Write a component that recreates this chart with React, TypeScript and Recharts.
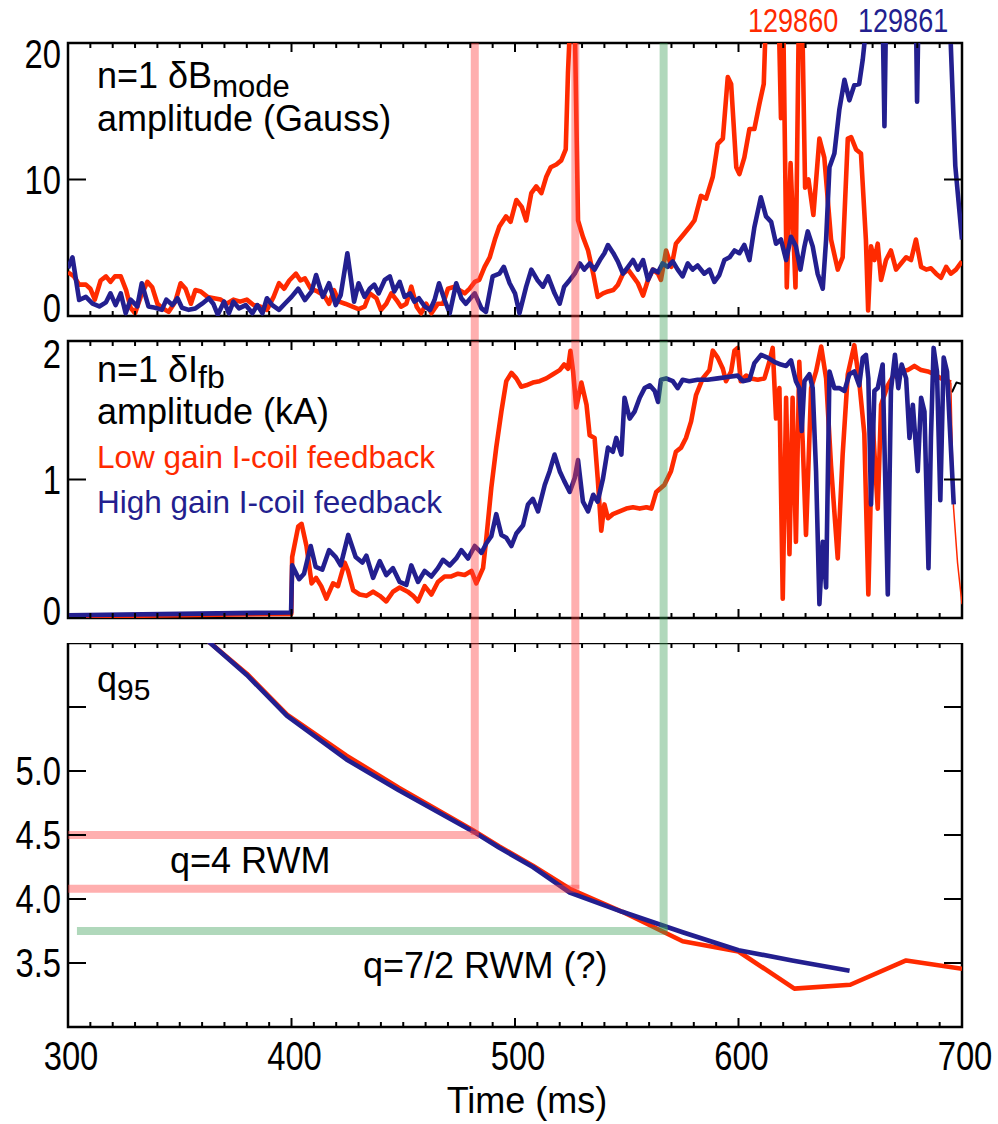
import React from 'react';
import { LineChart, Line, XAxis, YAxis, ReferenceLine, ReferenceArea } from 'recharts';

const RED = '#ff2a00';
const BLUE = '#231f8f';
const PINK = '#ff4040';
const GREEN = '#3a9d55';
const FONT = "'Liberation Sans', Arial, Helvetica, sans-serif";
const NARROW_SCALE = 0.82;

// ---- axis ticks ----
const timeTicks = [300, 310, 320, 330, 340, 350, 360, 370, 380, 390, 400, 410, 420, 430, 440, 450, 460, 470, 480, 490, 500,
  510, 520, 530, 540, 550, 560, 570, 580, 590, 600, 610, 620, 630, 640, 650, 660, 670, 680, 690, 700];
const modeTicks = [0, 10, 20];
const fbTicks = [0, 1, 2];
const qTicks = [3, 3.5, 4, 4.5, 5, 5.5, 6];
const qLabelled = [3.5, 4, 4.5, 5];

// ---- event markers ----
const eventRed1 = 482;
const eventRed2 = 527;
const eventGreen = 566.5;
const qRed1 = 4.5;
const qRed2 = 4.08;
const qGreen = 3.75;

// ---- n=1 dB_mode amplitude (Gauss) ----
const modeRed: [number, number][] = [
  [300, 3.2], [302.7, 2.9], [305, 2.3], [308, 2.3], [310, 2.0], [312, 1.2], [314.6, 2.6], [317, 2.9], [319, 2.5], [321, 2.9],
  [323.6, 2.9], [326, 1.9], [328, 0.6], [330, 0.2], [332.5, 1.4], [335.5, 2.5], [337.7, 2.1], [340, 0.9], [342, 0.6], [345, 0.3],
  [348, 1.05], [350.4, 2.4], [352.6, 2.0], [355, 0.9], [357, 1.9], [359.4, 1.8], [362.4, 1.4], [365.3, 1.3], [368.3, 1.2], [371, 0.9],
  [374, 1.2], [377, 1.05], [380, 1.2], [383, 0.8], [386, 0.7], [389, 0.45], [392, 1.4], [394.4, 2.4], [396.7, 2.0], [399, 2.6],
  [402, 3.1], [404, 2.6], [406, 2.75], [408.6, 2.0], [411.6, 1.8], [414.6, 1.5], [416.8, 0.9], [419, 1.9], [421.3, 1.05], [424, 0.9],
  [427, 0.7], [430, 0.5], [432.7, 0.68], [435, 1.66], [438, 1.3], [440, 0.44], [442.4, 0.9], [444.7, 1.66], [447, 1.17], [449, 0.68],
  [451.4, 0.9], [453.6, 2.15], [456, 0.68], [458, 0.2], [460.3, 0.9], [462.6, 0.2], [465.5, 0.9], [467.8, 0.9], [470, 2.0], [473, 2.15],
  [475, 1.9], [477.5, 1.66], [479.7, 2.0], [482, 2.5], [484, 2.64], [486.4, 3.6], [488.7, 4.3], [491, 5.6], [493, 6.55], [496, 7.3],
  [498, 6.9], [500.6, 8.5], [503, 8.0], [505, 7.0], [507.3, 9.0], [509.5, 9.5], [511.8, 9.0], [514, 10.2], [516, 10.9], [518.5, 11.1],
  [520.7, 11.4], [522.7, 12.2], [523.7, 17.8], [524.8, 22], [526.7, 22], [528.2, 7.0], [530.4, 5.8], [532.7, 4.8], [535, 3.1], [537, 1.4],
  [539.4, 1.66], [541.6, 1.8], [544, 1.9], [546, 2.27], [548.3, 3.1], [550.6, 3.4], [552.8, 2.9], [555, 2.4], [557.3, 1.5], [559.5, 2.64],
  [561.7, 3.4], [564, 3.1], [565.3, 2.64], [567.6, 4.8], [570, 3.6], [572, 5.3], [575, 5.9], [578, 6.5], [580.3, 7.0], [583.2, 8.8],
  [585.5, 8.6], [588.5, 10.2], [590.7, 12.6], [593, 13.0], [595.2, 17.5], [596.7, 17.0], [599, 10.9], [600.4, 10.4], [602.6, 11.6], [604.9, 13.7],
  [607.1, 13.7], [609.3, 15.5], [611.3, 17.0], [612.3, 22], [618, 22], [619, 14.5], [620, 22], [621.6, 2.1], [623.3, 11.2], [625.5, 2.1],
  [627, 22], [628.5, 22], [629.8, 9.4], [631.3, 10.0], [633.5, 7.4], [636.2, 13.0], [638.4, 11.6], [641.4, 5.6], [644.4, 3.4], [646.6, 4.3],
  [648.9, 13.0], [650.4, 13.1], [652.6, 12.2], [654.8, 11.9], [657, 5.6], [658, 0.4], [659.3, 5.1], [660.8, 4.1], [662.3, 5.3], [663.8, 2.64],
  [666, 4.1], [668.2, 4.8], [670.5, 3.4], [672.7, 3.85], [675, 4.3], [677.2, 4.1], [679.4, 5.6], [681.7, 3.6], [684, 3.4], [686.1, 3.5],
  [688.4, 3.1], [690.6, 2.8], [692.9, 3.6], [695, 3.1], [697.3, 3.4], [700, 4.0],
];
const modeBlue: [number, number][] = [
  [300, 3.5], [302, 4.3], [305, 1.17], [308, 1.4], [311, 0.9], [314, 0.7], [317, 1.0], [319, 1.66], [321.3, 0.8], [323.6, 1.66],
  [325.8, 0.2], [328, 1.2], [331, 0.7], [333, 2.4], [336, 0.7], [339, 0.6], [342, 0.45], [344, 1.2], [346.7, 0.8], [349, 1.3],
  [351, 0.6], [354, 0.45], [357, 0.55], [360, 0.9], [363, 1.3], [365, 0.9], [367, 0.1], [369.8, 1.05], [372, 0.2], [374, 1.05],
  [376.5, 0.56], [379.5, 0.8], [382.5, 0.2], [384.7, 0.8], [387, 0.2], [389, 1.3], [391.4, 0.8], [394.4, 0.45], [397, 0.9], [400, 1.4],
  [403, 2.0], [406, 1.17], [409, 1.8], [411, 3.0], [414, 1.4], [416.8, 2.4], [419.8, 0.8], [422, 1.53], [425, 4.6], [428, 1.05],
  [430, 2.4], [432.7, 1.4], [435, 2.0], [437, 2.3], [439, 1.66], [441.7, 2.64], [444, 2.9], [446, 1.8], [448.4, 2.5], [450.6, 1.4],
  [453, 1.66], [455, 1.05], [457, 1.3], [459.6, 0.7], [462, 0.44], [464, 1.17], [466, 2.4], [468.5, 1.17], [470.8, 0.2], [473.7, 2.4],
  [476, 1.3], [478, 0.9], [482, 1.66], [485, 0.56], [487, 0.3], [490, 2.9], [493, 3.1], [495, 3.6], [497.6, 2.4], [500, 1.66],
  [502, 0.2], [505, 2.15], [507.3, 3.4], [510, 2.64], [512.5, 2.15], [514.8, 2.9], [517.7, 1.66], [520, 0.9], [522, 2.15], [524.5, 2.64],
  [526.7, 3.1], [529, 3.85], [531, 3.4], [533.4, 3.85], [535.6, 3.4], [538, 4.1], [540, 4.6], [541.6, 5.2], [544, 4.6], [546, 4.0],
  [548.3, 3.1], [550.6, 3.6], [552.8, 4.1], [555, 3.4], [557.3, 4.1], [559.5, 2.64], [561.7, 3.4], [564, 3.2], [566, 3.85], [568.3, 3.6],
  [570.6, 4.0], [572.8, 3.4], [575, 2.9], [577.3, 3.85], [579.5, 3.4], [581.7, 3.7], [584.7, 3.1], [587, 3.4], [589.2, 2.5], [591.4, 3.0],
  [593.7, 4.1], [596, 4.3], [598.2, 4.8], [600.4, 4.6], [602.6, 5.2], [604.9, 4.1], [607.1, 6.5], [610, 8.7], [612.3, 7.3], [614.6, 6.9],
  [616.8, 5.3], [619, 5.6], [621.3, 4.1], [623.5, 5.8], [625.7, 5.1], [627.7, 3.4], [629.5, 5.1], [631, 6.2], [633.2, 5.1], [635.4, 3.1],
  [637.7, 2.0], [639.2, 5.6], [640.7, 10.9], [642.9, 11.9], [645.1, 15.1], [647.4, 17.3], [649.6, 15.8], [651.8, 16.9], [654, 17.0], [655.6, 18.8],
  [657, 21], [664.5, 22], [665.3, 13.9], [666, 22], [679.4, 22], [679.9, 15.7], [680.5, 22], [694.5, 22], [697, 11], [700, 5.6],
];

// ---- n=1 dI_fb amplitude (kA) ----
const fbRed: [number, number][] = [
  [300, 0.01], [350, 0.02], [399.9, 0.03], [400.3, 0.44], [403, 0.66], [404.5, 0.68], [406.7, 0.52], [409, 0.25], [411, 0.29], [413.3, 0.23],
  [415.6, 0.14], [418.6, 0.25], [420.8, 0.23], [423.8, 0.4], [425.3, 0.34], [427.6, 0.2], [430.5, 0.17], [433.5, 0.16], [436.5, 0.19], [439.5, 0.16],
  [442.4, 0.12], [445.4, 0.19], [448.4, 0.22], [452, 0.19], [454.4, 0.16], [456.6, 0.12], [459.6, 0.23], [462.6, 0.17], [465.5, 0.26], [468.5, 0.3],
  [471.5, 0.3], [474.5, 0.32], [477.5, 0.31], [480.5, 0.34], [482.7, 0.25], [485.7, 0.36], [487.2, 0.58], [489.4, 0.94], [491.6, 1.23], [493.9, 1.49],
  [496.1, 1.71], [498.4, 1.77], [500.6, 1.73], [502.8, 1.67], [505, 1.68], [508, 1.7], [511, 1.71], [514, 1.73], [517, 1.76], [520, 1.79],
  [522, 1.83], [523.7, 1.8], [524.8, 1.93], [526, 1.78], [527.4, 1.52], [529.7, 1.7], [532, 1.54], [533.4, 1.32], [535.6, 1.3], [537, 1.01],
  [538.6, 0.63], [540, 0.82], [541.6, 0.72], [543.8, 0.75], [546.8, 0.77], [549.8, 0.79], [552.8, 0.8], [555.8, 0.79], [558.8, 0.8], [561, 0.79],
  [563.2, 0.91], [566.8, 0.96], [569.8, 1.06], [572, 1.2], [574.3, 1.23], [576.5, 1.3], [578.8, 1.42], [581, 1.61], [584, 1.73], [587, 1.79],
  [588.5, 1.93], [590.7, 1.88], [593, 1.8], [594.4, 1.71], [596.7, 1.78], [598.2, 1.93], [599.6, 1.95], [601, 1.71], [603.4, 1.75], [605.6, 1.73],
  [608.6, 1.72], [611.6, 1.73], [613.8, 1.85], [615.3, 1.95], [616.8, 1.44], [618.3, 1.66], [619.8, 0.14], [621.3, 1.59], [622.8, 0.46], [624.2, 1.59],
  [625.7, 0.55], [627.2, 1.85], [628.7, 1.28], [630.2, 0.6], [632.5, 1.66], [634.7, 1.78], [637, 1.96], [639.2, 1.73], [641.4, 1.1], [644.4, 0.43],
  [646.6, 1.18], [648.9, 1.76], [651.8, 1.97], [654, 1.71], [656.3, 1.33], [658.1, 0.17], [660, 1.42], [662.3, 0.79], [663.8, 1.54], [666.8, 1.68],
  [669.7, 1.76], [672.7, 1.78], [675.7, 1.79], [678.7, 1.82], [681.7, 1.79], [684.7, 1.78], [687.6, 1.76], [690.6, 1.73], [693.6, 1.71], [695, 1.7],
];
const fbRedTail: [number, number][] = [[695, 1.7], [696.2, 0.8], [698, 0.4], [700, 0.1]];
const fbBlackTail: [number, number][] = [[695.5, 1.63], [697.5, 1.7], [700, 1.69]];
const fbBlue: [number, number][] = [
  [300, 0.02], [350, 0.03], [399.8, 0.04], [400.3, 0.38], [403.4, 0.28], [405.6, 0.32], [408.6, 0.52], [410.8, 0.37], [413.8, 0.35], [416.8, 0.49],
  [419.8, 0.44], [422, 0.38], [425.4, 0.6], [428.7, 0.44], [431.7, 0.4], [433.5, 0.45], [436.5, 0.29], [439.5, 0.41], [442.4, 0.31], [445.4, 0.36],
  [448.4, 0.26], [451.4, 0.24], [453.6, 0.38], [456.6, 0.26], [459.6, 0.34], [462.6, 0.3], [465.5, 0.36], [467.8, 0.42], [470.8, 0.38], [473.7, 0.43],
  [476, 0.49], [479, 0.43], [482, 0.52], [485, 0.47], [487.2, 0.54], [489.4, 0.59], [491.6, 0.75], [493.9, 0.6], [496.1, 0.58], [498.4, 0.52],
  [500.6, 0.61], [503.6, 0.67], [505.8, 0.82], [508, 0.86], [510.3, 0.77], [513.3, 0.96], [515.5, 1.06], [517.7, 1.18], [520, 1.06], [522, 0.99],
  [524.5, 0.91], [526.7, 1.01], [528.2, 1.14], [530.4, 0.84], [532.7, 0.77], [535, 0.89], [537, 0.84], [539.4, 1.01], [541.6, 1.23], [543.8, 1.2],
  [545.3, 1.3], [547.6, 1.18], [549, 1.59], [551.3, 1.44], [553.5, 1.49], [555.8, 1.59], [558, 1.66], [560.3, 1.68], [562.5, 1.64], [564, 1.56],
  [565.3, 1.72], [567.6, 1.73], [570.6, 1.71], [572.8, 1.66], [575, 1.72], [578, 1.71], [581.7, 1.72], [586.2, 1.72], [590.7, 1.73], [595.2, 1.74],
  [599.6, 1.75], [601.9, 1.71], [604.9, 1.72], [607.1, 1.84], [610.1, 1.9], [613, 1.88], [616, 1.85], [619, 1.83], [621.3, 1.82], [623.5, 1.86],
  [625.7, 1.71], [627.2, 1.66], [628.3, 1.35], [629.5, 1.71], [631.7, 1.76], [633.2, 1.66], [634.7, 1.06], [636.2, 0.1], [637.7, 0.55], [639.2, 0.22],
  [640.7, 1.78], [642.9, 1.66], [645.1, 1.66], [647.4, 1.64], [649.6, 1.76], [651.8, 1.78], [654, 1.68], [655.6, 1.88], [657, 1.9], [658.1, 1.73],
  [659.3, 0.82], [660.8, 1.64], [662.3, 1.66], [664.5, 1.83], [666.8, 0.17], [668.2, 1.64], [670, 1.9], [671.5, 1.66], [673, 1.83], [675, 1.73],
  [676.5, 1.3], [678, 1.54], [680.2, 1.06], [681.7, 1.59], [683.2, 1.49], [685, 0.36], [686.1, 1.3], [687.3, 1.95], [688.8, 1.78], [690.3, 0.85],
  [691.8, 1.88], [693.3, 1.78], [694.8, 1.3], [696.3, 0.82],
];

// ---- q95 ----
const q95Red: [number, number][] = [
  [363, 6.01], [380, 5.76], [398, 5.44], [424.6, 5.12], [448, 4.87], [481, 4.54], [493, 4.41], [508, 4.26], [524.5, 4.08], [548, 3.9],
  [575, 3.67], [600, 3.59], [625, 3.3], [650, 3.33], [675, 3.52], [700, 3.455],
];
const q95Blue: [number, number][] = [
  [363, 6.01], [380, 5.75], [398, 5.43], [424.6, 5.09], [448, 4.85], [481, 4.53], [493, 4.4], [508, 4.25], [524.5, 4.05], [548, 3.9],
  [575, 3.74], [600, 3.6], [624, 3.52], [649.7, 3.44],
];

const pts = (a: [number, number][]) => a.map(([t, v]) => ({ t, v }));

const W = 998;
const PLOT_RIGHT = 962;
const LW = 4.6;

// condensed (Helvetica-Narrow-like) text by horizontal scaling
const NarrowText = ({ x, y, anchor, size, fill, dy, children }: any) => (
  <text transform={`translate(${x},${y}) scale(${NARROW_SCALE},1)`} x={0} y={0} dy={dy}
    textAnchor={anchor} fontSize={size} fill={fill} fontFamily={FONT}>{children}</text>
);

const makeXTick = (plotTop: number, showLabel: boolean) => (props: any) => {
  const { x, y, payload } = props;
  const v = payload.value as number;
  const major = v % 100 === 0;
  const len = major ? 9 : 5;
  return (
    <g>
      <line x1={x} x2={x} y1={y} y2={y - len} stroke="#000" strokeWidth={2} />
      <line x1={x} x2={x} y1={plotTop} y2={plotTop + len} stroke="#000" strokeWidth={2} />
      {showLabel && major ? (
        <NarrowText x={x + 3} y={y + 43} anchor="middle" size={40} fill="#000">{v}</NarrowText>
      ) : null}
    </g>
  );
};

const makeYTick = (labelFn: (v: number) => string, dyFn: (v: number) => number) => (props: any) => {
  const { x, y, payload } = props;
  const v = payload.value as number;
  const lab = labelFn(v);
  return (
    <g>
      <line x1={x} x2={x + 18} y1={y} y2={y} stroke="#000" strokeWidth={2} />
      <line x1={PLOT_RIGHT - 18} x2={PLOT_RIGHT} y1={y} y2={y} stroke="#000" strokeWidth={2} />
      {lab ? (
        <NarrowText x={x - 7} y={y + dyFn(v)} dy="0.36em" anchor="end" size={40} fill="#000">{lab}</NarrowText>
      ) : null}
    </g>
  );
};

const extendDown = (ext: number) => (p: any) => {
  const top = Math.min(p.y1, p.y2);
  const bot = Math.max(p.y1, p.y2);
  return <line x1={p.x1} x2={p.x2} y1={top} y2={bot + ext} stroke={p.stroke} strokeOpacity={p.strokeOpacity} strokeWidth={p.strokeWidth} />;
};

const lineProps = { type: 'linear' as const, dataKey: 'v', dot: false, activeDot: false, isAnimationActive: false, strokeLinejoin: 'round' as const };

export default function App() {
  return (
    <div style={{ position: 'absolute', left: 0, top: 0, width: W, height: 1124, background: '#fff', fontFamily: FONT }}>
      {/* Top panel */}
      <div style={{ position: 'absolute', left: 0, top: 0 }}>
        <LineChart width={W} height={341} margin={{ top: 43, right: W - PLOT_RIGHT, bottom: 0, left: 0 }}>
          <XAxis dataKey="t" type="number" domain={[300, 700]} allowDataOverflow ticks={timeTicks} interval={0}
            height={25} tickSize={0} tickMargin={0} axisLine={false} tickLine={false} tick={makeXTick(43, false)} />
          <YAxis type="number" domain={[0, 20]} allowDataOverflow ticks={modeTicks} interval={0} width={68}
            tickSize={0} tickMargin={0} axisLine={false} tickLine={false}
            tick={makeYTick((v) => String(v), (v) => (v === 20 ? 11 : v === 0 ? -8 : 0))} />
          <Line {...lineProps} data={pts(modeRed)} stroke={RED} strokeWidth={LW} />
          <Line {...lineProps} data={pts(modeBlue)} stroke={BLUE} strokeWidth={LW} />
          <ReferenceLine x={eventRed1} stroke={PINK} strokeOpacity={0.42} strokeWidth={8} shape={extendDown(25)} />
          <ReferenceLine x={eventRed2} stroke={PINK} strokeOpacity={0.42} strokeWidth={8} shape={extendDown(25)} />
          <ReferenceLine x={eventGreen} stroke={GREEN} strokeOpacity={0.4} strokeWidth={8} shape={extendDown(25)} />
          <ReferenceArea x1={300} x2={700} y1={0} y2={20} fill="none" stroke="#000" strokeWidth={2.5} />
          <text x={97} y={88} fontSize={36} fill="#000" fontFamily={FONT}>
            n=1 δB<tspan fontSize={31} dy={9}>mode</tspan>
          </text>
          <text x={97} y={131} fontSize={36} fill="#000" fontFamily={FONT}>amplitude (Gauss)</text>
          <NarrowText x={748} y={32} anchor="start" size={33} fill={RED}>129860</NarrowText>
          <NarrowText x={858} y={32} anchor="start" size={33} fill={BLUE}>129861</NarrowText>
        </LineChart>
      </div>

      {/* Middle panel */}
      <div style={{ position: 'absolute', left: 0, top: 321 }}>
        <LineChart width={W} height={322} margin={{ top: 20, right: W - PLOT_RIGHT, bottom: 0, left: 0 }}>
          <XAxis dataKey="t" type="number" domain={[300, 700]} allowDataOverflow ticks={timeTicks} interval={0}
            height={25} tickSize={0} tickMargin={0} axisLine={false} tickLine={false} tick={makeXTick(20, false)} />
          <YAxis type="number" domain={[0, 2]} allowDataOverflow ticks={fbTicks} interval={0} width={68}
            tickSize={0} tickMargin={0} axisLine={false} tickLine={false}
            tick={makeYTick((v) => String(v), (v) => (v === 2 ? 13 : v === 0 ? -7 : 0))} />
          <Line {...lineProps} data={pts(fbBlackTail)} stroke="#000" strokeWidth={2} />
          <Line {...lineProps} data={pts(fbRed)} stroke={RED} strokeWidth={LW} />
          <Line {...lineProps} data={pts(fbRedTail)} stroke={RED} strokeWidth={1.5} />
          <Line {...lineProps} data={pts(fbBlue)} stroke={BLUE} strokeWidth={LW} />
          <ReferenceLine x={eventRed1} stroke={PINK} strokeOpacity={0.42} strokeWidth={8} shape={extendDown(25)} />
          <ReferenceLine x={eventRed2} stroke={PINK} strokeOpacity={0.42} strokeWidth={8} shape={extendDown(25)} />
          <ReferenceLine x={eventGreen} stroke={GREEN} strokeOpacity={0.4} strokeWidth={8} shape={extendDown(25)} />
          <ReferenceArea x1={300} x2={700} y1={0} y2={2} fill="none" stroke="#000" strokeWidth={2.5} />
          <text x={97} y={61} fontSize={36} fill="#000" fontFamily={FONT}>
            n=1 δI<tspan fontSize={32} dy={6}>fb</tspan>
          </text>
          <text x={97} y={103} fontSize={36} fill="#000" fontFamily={FONT}>amplitude (kA)</text>
          <text x={97} y={147} fontSize={31.5} fill={RED} fontFamily={FONT}>Low gain I-coil feedback</text>
          <text x={97} y={192} fontSize={31.5} fill={BLUE} fontFamily={FONT}>High gain I-coil feedback</text>
        </LineChart>
      </div>

      {/* Bottom panel */}
      <div style={{ position: 'absolute', left: 0, top: 643 }}>
        <LineChart width={W} height={481} margin={{ top: 0, right: W - PLOT_RIGHT, bottom: 0, left: 0 }}>
          <XAxis dataKey="t" type="number" domain={[300, 700]} allowDataOverflow ticks={timeTicks} interval={0}
            height={97} tickSize={0} tickMargin={0} axisLine={false} tickLine={false} tick={makeXTick(0, true)} />
          <YAxis type="number" domain={[3, 6]} allowDataOverflow ticks={qTicks} interval={0} width={68}
            tickSize={0} tickMargin={0} axisLine={false} tickLine={false}
            tick={makeYTick((v) => (qLabelled.includes(v) ? v.toFixed(1) : ''), () => 0)} />
          <Line {...lineProps} data={pts(q95Red)} stroke={RED} strokeWidth={LW} />
          <Line {...lineProps} data={pts(q95Blue)} stroke={BLUE} strokeWidth={LW} />
          <ReferenceLine segment={[{ x: eventRed1, y: 6 }, { x: eventRed1, y: qRed1 }]} stroke={PINK} strokeOpacity={0.42} strokeWidth={8} />
          <ReferenceLine segment={[{ x: 300, y: qRed1 }, { x: eventRed1 + 1.8, y: qRed1 }]} stroke={PINK} strokeOpacity={0.42} strokeWidth={8} />
          <ReferenceLine segment={[{ x: eventRed2, y: 6 }, { x: eventRed2, y: qRed2 }]} stroke={PINK} strokeOpacity={0.42} strokeWidth={8} />
          <ReferenceLine segment={[{ x: 300, y: qRed2 }, { x: eventRed2 + 1.8, y: qRed2 }]} stroke={PINK} strokeOpacity={0.42} strokeWidth={8} />
          <ReferenceLine segment={[{ x: eventGreen, y: 6 }, { x: eventGreen, y: qGreen }]} stroke={GREEN} strokeOpacity={0.4} strokeWidth={8} />
          <ReferenceLine segment={[{ x: 304, y: qGreen }, { x: eventGreen + 1.8, y: qGreen }]} stroke={GREEN} strokeOpacity={0.4} strokeWidth={8} />
          <ReferenceArea x1={300} x2={700} y1={3} y2={6} fill="none" stroke="#000" strokeWidth={2.5} />
          <text x={97} y={49} fontSize={36} fill="#000" fontFamily={FONT}>
            q<tspan fontSize={30} dy={8}>95</tspan>
          </text>
          <text x={170} y={230} fontSize={36} fill="#000" fontFamily={FONT}>q=4 RWM</text>
          <text x={363} y={335} fontSize={36} fill="#000" fontFamily={FONT}>q=7/2 RWM (?)</text>
          <text x={527} y={470} textAnchor="middle" fontSize={36} fill="#000" fontFamily={FONT}>Time (ms)</text>
        </LineChart>
      </div>
    </div>
  );
}
